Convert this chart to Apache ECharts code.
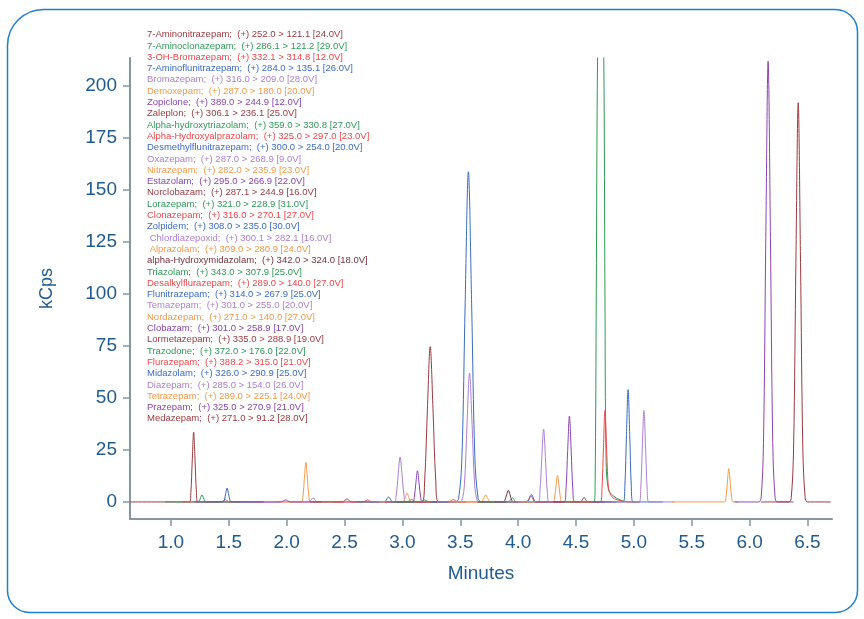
<!DOCTYPE html>
<html>
<head>
<meta charset="utf-8">
<script src="https://cdn.jsdelivr.net/npm/echarts@6/dist/echarts.min.js"></script>
<style>html,body{margin:0;padding:0;background:#fff;}#c{width:864px;height:619px;}</style>
</head>
<body>
<div id="c"></div>
<script>
// ---- data ----
const compounds = ['7-Aminonitrazepam','7-Aminoclonazepam','3-OH-Bromazepam','7-Aminoflunitrazepam','Bromazepam','Demoxepam','Zopiclone','Zaleplon','Alpha-hydroxytriazolam','Alpha-Hydroxyalprazolam','Desmethylflunitrazepam','Oxazepam','Nitrazepam','Estazolam','Norclobazam','Lorazepam','Clonazepam','Zolpidem',' Chlordiazepoxid',' Alprazolam','alpha-Hydroxymidazolam','Triazolam','Desalkylflurazepam','Flunitrazepam','Temazepam','Nordazepam','Clobazam','Lormetazepam','Trazodone','Flurazepam','Midazolam','Diazepam','Tetrazepam','Prazepam','Medazepam'];
const transitions = ['(+) 252.0 > 121.1 [24.0V]','(+) 286.1 > 121.2 [29.0V]','(+) 332.1 > 314.8 [12.0V]','(+) 284.0 > 135.1 [26.0V]','(+) 316.0 > 209.0 [28.0V]','(+) 287.0 > 180.0 [20.0V]','(+) 389.0 > 244.9 [12.0V]','(+) 306.1 > 236.1 [25.0V]','(+) 359.0 > 330.8 [27.0V]','(+) 325.0 > 297.0 [23.0V]','(+) 300.0 > 254.0 [20.0V]','(+) 287.0 > 268.9 [9.0V]','(+) 282.0 > 235.9 [23.0V]','(+) 295.0 > 266.9 [22.0V]','(+) 287.1 > 244.9 [16.0V]','(+) 321.0 > 228.9 [31.0V]','(+) 316.0 > 270.1 [27.0V]','(+) 308.0 > 235.0 [30.0V]','(+) 300.1 > 282.1 [16.0V]','(+) 309.0 > 280.9 [24.0V]','(+) 342.0 > 324.0 [18.0V]','(+) 343.0 > 307.9 [25.0V]','(+) 289.0 > 140.0 [27.0V]','(+) 314.0 > 267.9 [25.0V]','(+) 301.0 > 255.0 [20.0V]','(+) 271.0 > 140.0 [27.0V]','(+) 301.0 > 258.9 [17.0V]','(+) 335.0 > 288.9 [19.0V]','(+) 372.0 > 176.0 [22.0V]','(+) 388.2 > 315.0 [21.0V]','(+) 326.0 > 290.9 [25.0V]','(+) 285.0 > 154.0 [26.0V]','(+) 289.0 > 225.1 [24.0V]','(+) 325.0 > 270.9 [21.0V]','(+) 271.0 > 91.2 [28.0V]'];
const colorKeys = ['M','G','R','B','L','O','P','M','G','R','B','L','O','P','M','G','R','B','L','O','D','G','R','B','L','O','P','M','G','R','B','L','O','P','M'];
const xTicks = [1.0,1.5,2.0,2.5,3.0,3.5,4.0,4.5,5.0,5.5,6.0,6.5];
const yTicks = [0,25,50,75,100,125,150,175,200];

// traces: [minutes, kCps]
const traces = [
 [[0.65,0],[1.16,0],[1.172,4.5],[1.184,20.2],[1.196,33.6],[1.208,20.2],[1.22,4.5],[1.232,0],[1.6,0]],
 [[0.95,0],[1.232,0],[1.244,0.5],[1.256,2],[1.268,3.4],[1.28,2],[1.292,0.5],[1.304,0],[1.6,0]],
 [[1.1,0],[1.434,0],[1.458,0.7],[1.47,1.2],[1.482,0.7],[1.506,0],[1.8,0]],
 [[1.2,0],[1.449,0],[1.461,0.9],[1.473,4],[1.485,6.7],[1.497,4],[1.509,0.9],[1.521,0],[1.8,0]],
 [[1.75,0],[2.186,0],[2.2,0.3],[2.214,1.2],[2.228,2],[2.242,1.2],[2.256,0.3],[2.27,0],[2.6,0]],
 [[1.9,0],[2.127,0],[2.14,2.6],[2.153,11.4],[2.166,19],[2.179,11.4],[2.192,2.6],[2.205,0],[2.5,0]],
 [[1.6,0],[1.945,0],[1.975,0.6],[1.99,1],[2.005,0.6],[2.035,0],[2.3,0]],
 [[2.2,0],[2.478,0],[2.506,0.9],[2.52,1.5],[2.534,0.9],[2.562,0],[2.8,0]],
 [[2.7,0],[3.035,0],[3.065,0.7],[3.08,1.2],[3.095,0.7],[3.125,0],[3.4,0]],
 [[2.4,0],[2.658,0],[2.686,0.6],[2.7,1],[2.714,0.6],[2.742,0],[3.0,0]],
 [[2.6,0],[2.835,0],[2.85,0.3],[2.865,1.4],[2.88,2.4],[2.895,1.4],[2.91,0.3],[2.925,0],[3.2,0]],
 [[2.7,0],[2.929,0],[2.946,2.9],[2.963,13],[2.98,21.6],[2.997,13],[3.014,2.9],[3.031,0],[3.3,0]],
 [[2.8,0],[3.001,0],[3.014,0.6],[3.027,2.6],[3.04,4.3],[3.053,2.6],[3.066,0.6],[3.079,0],[3.4,0]],
 [[2.85,0],[3.088,0],[3.102,2],[3.116,9],[3.13,15],[3.144,9],[3.158,2],[3.172,0],[3.45,0]],
 [[2.95,0],[3.168,0],[3.192,10.1],[3.216,44.8],[3.24,74.7],[3.264,44.8],[3.288,10.1],[3.312,0],[3.55,0]],
 [[2.9,0],[3.145,0],[3.175,0.6],[3.19,1],[3.205,0.6],[3.235,0],[3.5,0]],
 [[3.1,0],[3.395,0],[3.425,0.7],[3.44,1.2],[3.455,0.7],[3.485,0],[3.7,0]],
 [[3.25,0],[3.458,0],[3.486,1.8],[3.514,21.4],[3.542,95.3],[3.57,158.8],[3.598,95.3],[3.626,21.4],[3.654,1.8],[3.682,0],[3.9,0]],
 [[3.3,0],[3.492,0],[3.514,0.7],[3.536,8.4],[3.558,37.2],[3.58,62],[3.602,37.2],[3.624,8.4],[3.646,0.7],[3.668,0],[3.9,0]],
 [[3.4,0],[3.675,0],[3.69,0.5],[3.705,2],[3.72,3.4],[3.735,2],[3.75,0.5],[3.765,0],[4.0,0]],
 [[3.65,0],[3.87,0],[3.885,0.8],[3.9,3.4],[3.915,5.6],[3.93,3.4],[3.945,0.8],[3.96,0],[4.2,0]],
 [[3.65,0],[3.911,0],[3.924,0.3],[3.937,1.2],[3.95,2],[3.963,1.2],[3.976,0.3],[3.989,0],[4.25,0]],
 [[3.8,0],[4.068,0],[4.082,0.4],[4.096,1.8],[4.11,3],[4.124,1.8],[4.138,0.4],[4.152,0],[4.4,0]],
 [[3.8,0],[4.073,0],[4.087,0.5],[4.101,2.2],[4.115,3.6],[4.129,2.2],[4.143,0.5],[4.157,0],[4.4,0]],
 [[3.9,0],[4.172,0],[4.188,4.7],[4.204,21],[4.22,35],[4.236,21],[4.252,4.7],[4.268,0],[4.5,0]],
 [[4.0,0],[4.301,0],[4.314,1.7],[4.327,7.7],[4.34,12.8],[4.353,7.7],[4.366,1.7],[4.379,0],[4.6,0]],
 [[4.15,0],[4.398,0],[4.413,5.6],[4.428,24.8],[4.443,41.3],[4.458,24.8],[4.473,5.6],[4.488,0],[4.75,0]],
 [[4.3,0],[4.534,0],[4.546,0.3],[4.558,1.3],[4.57,2.2],[4.582,1.3],[4.594,0.3],[4.606,0],[4.85,0]],
 [[4.4,0],[4.655,0],[4.665,8],[4.675,100],[4.686,213],[4.712,320],[4.74,213],[4.75,100],[4.76,20],[4.78,6],[4.82,3],[4.88,1],[4.95,0],[5.0,0]],
 [[4.45,0],[4.71,0],[4.724,6],[4.737,26],[4.75,44],[4.763,28],[4.776,10],[4.79,4.5],[4.82,2],[4.87,0.8],[4.95,0],[5.05,0]],
 [[4.65,0],[4.908,0],[4.922,7.3],[4.936,32.4],[4.95,54],[4.964,32.4],[4.978,7.3],[4.992,0],[5.25,0]],
 [[4.8,0],[5.045,0],[5.059,5.9],[5.073,26.4],[5.087,44],[5.101,26.4],[5.115,5.9],[5.129,0],[5.35,0]],
 [[5.33,0],[5.784,0],[5.796,2.2],[5.808,9.6],[5.82,16],[5.832,9.6],[5.844,2.2],[5.856,0],[5.9,0]],
 [[5.87,0],[6.08,0],[6.1,2.3],[6.12,28.6],[6.14,127.2],[6.16,212],[6.18,127.2],[6.2,28.6],[6.22,2.3],[6.24,0],[6.38,0]],
 [[6.1,0],[6.34,0],[6.36,2.1],[6.38,25.9],[6.4,115.2],[6.42,192],[6.44,115.2],[6.46,25.9],[6.48,2.1],[6.5,0],[6.7,0]]
];

// ---- styling ----
const palette = {M:'#9b3a40', G:'#2e9a57', R:'#f0474a', B:'#3a6cc0', L:'#ad80cf', O:'#f59a48', P:'#8c45ad', D:'#74303c'};
const axisColor = '#8596a0';
const labelColor = '#1f5b8e';
const font = 'Liberation Sans, Arial, sans-serif';

const names = compounds.map((c, i) => c + ';  ' + transitions[i]);
const colors = colorKeys.map(k => palette[k]);

const chart = echarts.init(document.getElementById('c'), null, {renderer: 'canvas'});
chart.setOption({
  animation: false,
  backgroundColor: '#fff',
  grid: {left: 130, right: 32, top: 58, bottom: 100},
  graphic: [{
    type: 'rect', silent: true,
    shape: {x: 7.5, y: 9.5, width: 850, height: 603, r: [36, 22, 22, 22]},
    style: {fill: 'none', stroke: '#1f7fc8', lineWidth: 1.5}
  }],
  legend: {
    orient: 'vertical', left: 142, top: 29, padding: 0,
    itemWidth: 0, itemHeight: 0, itemGap: 0, icon: 'rect',
    selectedMode: false,
    textStyle: {fontSize: 9.5, lineHeight: 11.3, fontFamily: font},
    data: names.map((n, i) => ({name: n, textStyle: {color: colors[i]}}))
  },
  xAxis: {
    type: 'value', min: 0.646, max: 6.712,
    name: 'Minutes', nameLocation: 'middle', nameGap: 45,
    nameTextStyle: {fontSize: 19, color: labelColor, fontFamily: font},
    axisLine: {onZero: false, lineStyle: {color: axisColor, width: 2}},
    axisTick: {customValues: xTicks, length: 7, lineStyle: {color: axisColor, width: 1.5}},
    axisLabel: {customValues: xTicks, formatter: v => v.toFixed(1), color: labelColor, fontSize: 19, margin: 14, fontFamily: font},
    splitLine: {show: false}
  },
  yAxis: {
    type: 'value', min: -8.2, max: 213.5,
    name: 'kCps', nameLocation: 'middle', nameGap: 74,
    nameTextStyle: {fontSize: 18, color: labelColor, fontFamily: font},
    axisLine: {show: true, onZero: false, lineStyle: {color: axisColor, width: 2}},
    axisTick: {show: true, customValues: yTicks, length: 7, lineStyle: {color: axisColor, width: 1.5}},
    axisLabel: {customValues: yTicks, color: labelColor, fontSize: 19, margin: 13, fontFamily: font},
    splitLine: {show: false}
  },
  series: traces.map((d, i) => ({
    type: 'line', name: names[i], data: d,
    showSymbol: false, symbol: 'none', smooth: 0.35, clip: true,
    lineStyle: {width: 1, color: colors[i]}, itemStyle: {color: colors[i]},
    emphasis: {disabled: true}
  }))
});
</script>
</body>
</html>
